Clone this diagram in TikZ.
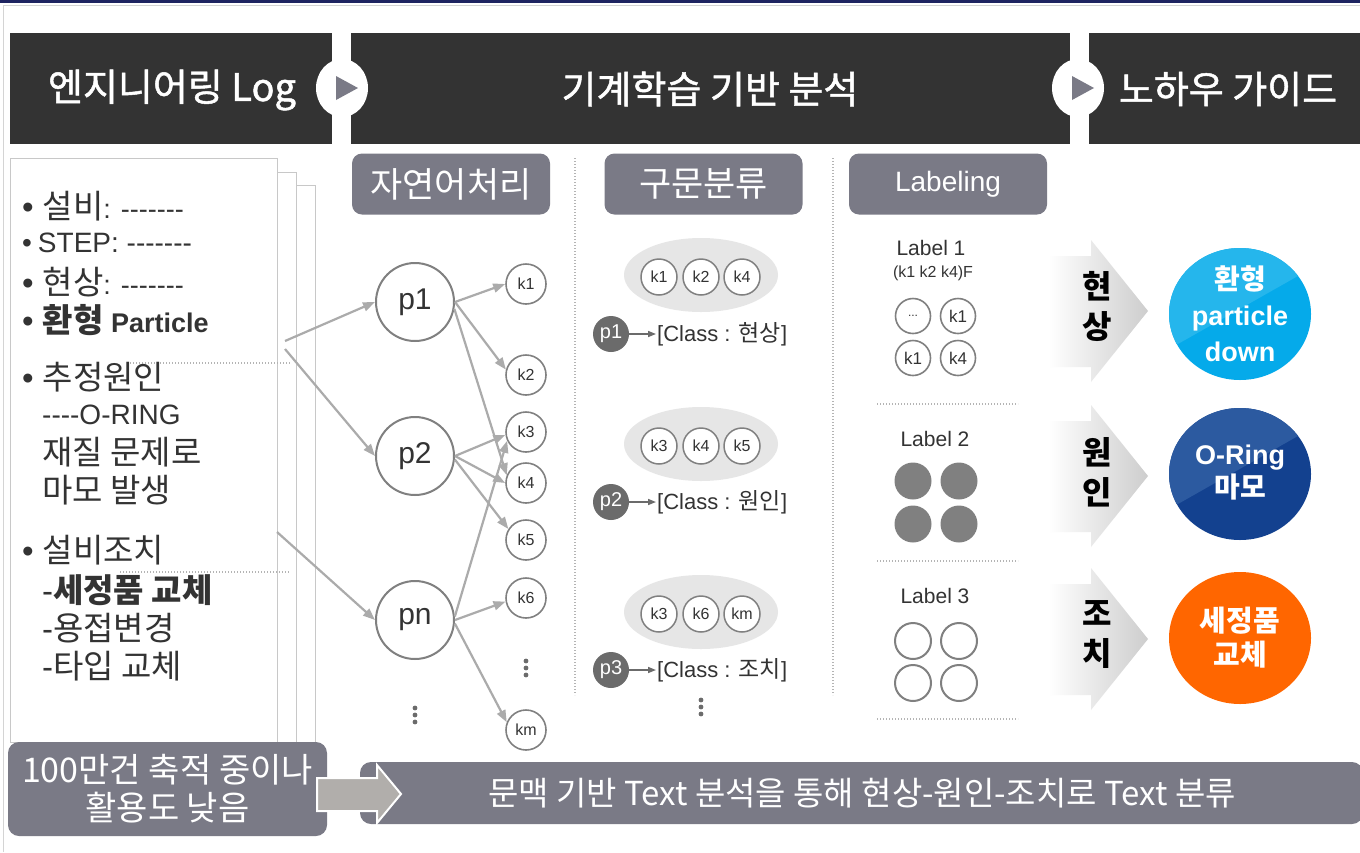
\documentclass[tikz,border=0pt]{standalone}
\usepackage{fontspec}
\setmainfont{Noto Sans CJK KR}
\newfontfamily\lat{Liberation Sans}
\newfontfamily\semib[FakeBold=1.3]{Noto Sans CJK KR}
\usetikzlibrary{shapes.geometric,arrows.meta,calc}
\definecolor{hdr}{HTML}{333333}
\definecolor{pill}{HTML}{7A7A86}
\definecolor{navy}{HTML}{1E2461}
\definecolor{framec}{HTML}{D4D4D4}
\definecolor{pagec}{HTML}{C8C8C8}
\definecolor{txt}{HTML}{333333}
\definecolor{arrc}{HTML}{ABABAB}
\definecolor{cb}{HTML}{808080}
\definecolor{ellc}{HTML}{E6E6E6}
\definecolor{dk}{HTML}{6B6B6B}
\definecolor{fillc}{HTML}{808080}
\definecolor{blueA}{HTML}{25B6EC}
\definecolor{blueB}{HTML}{05AAEA}
\definecolor{navA}{HTML}{2C5AA0}
\definecolor{navB}{HTML}{13418F}
\definecolor{orng}{HTML}{FF6600}
\definecolor{barr}{HTML}{B1AEAB}
\definecolor{agray}{HTML}{CDCDCD}
\definecolor{dotc}{HTML}{B4B4B4}
\newcommand{\bul}{{\lat •}\hspace{9pt}}
\tikzset{
 hdrbar/.style={fill=hdr, inner sep=0},
 hdrtxt/.style={text=white, font=\semib\fontsize{38}{38}\selectfont, inner sep=0},
 pillbox/.style={fill=pill, rounded corners=10pt, minimum width=198pt, minimum height=61pt, text=white, inner sep=0},
 lt/.style={anchor=west, inner sep=0, text=txt, font=\fontsize{33}{33}\selectfont},
 pnode/.style={circle, draw=cb, line width=2pt, fill=white, minimum size=78pt, inner sep=0, text=txt, font=\lat\fontsize{30}{30}\selectfont},
 knode/.style={circle, draw=cb, line width=1.6pt, fill=white, minimum size=40pt, inner sep=0, text=txt, font=\lat\fontsize{16}{16}\selectfont},
 conn/.style={draw=arrc, line width=2.2pt, -{Triangle[length=12pt,width=9pt]}},
 ellbox/.style={ellipse, fill=ellc, minimum width=154pt, minimum height=74pt, inner sep=0},
 sknode/.style={circle, draw=cb, line width=1.5pt, fill=white, minimum size=36pt, inner sep=0, text=txt, font=\lat\fontsize{16}{16}\selectfont},
 pdark/.style={circle, fill=dk, minimum size=36pt, inner sep=0, text=white, font=\lat\fontsize{20}{20}\selectfont},
 clsnode/.style={anchor=west, inner sep=1pt, text=txt, font=\fontsize{23}{23}\selectfont},
 sarr/.style={draw=dk, line width=1.5pt, -{Triangle[length=8pt,width=6pt]}},
 labtxt/.style={inner sep=0, text=txt, font=\lat\fontsize{21}{21}\selectfont},
 lcirc/.style={circle, draw=cb, line width=1.6pt, fill=white, minimum size=35pt, inner sep=0, text=txt, font=\lat\fontsize{17}{17}\selectfont},
 lfill/.style={circle, fill=fillc, minimum size=37pt, inner sep=0},
 lempty/.style={circle, draw=cb, line width=2pt, fill=white, minimum size=36pt, inner sep=0},
 dotline/.style={draw=dotc, line width=1.2pt, dash pattern=on 1.2pt off 1.8pt},
 vtxt/.style={inner sep=0, align=center, text=black, font=\bfseries\fontsize{32}{40}\selectfont},
 ctxt/.style={inner sep=0, align=center, text=white, font=\bfseries\fontsize{28}{36}\selectfont},
 gbox/.style={fill=pill, rounded corners=11pt, inner sep=0, text=white},
}
\begin{document}
\begin{tikzpicture}[x=1pt,y=-1pt]
\useasboundingbox (0,0) rectangle (1360,852);
\fill[white] (0,0) rectangle (1360,852);
\draw[framec, line width=1pt] (3.5,852) -- (3.5,5) -- (1360,5);
\fill[navy] (0,0) rectangle (1360,3);

% header bars
\node[hdrbar, minimum width=322pt, minimum height=111pt] (h1) at (171,88.5) {};
\node[hdrbar, minimum width=719pt, minimum height=111pt] (h2) at (710.5,88.5) {};
\node[hdrbar, minimum width=271pt, minimum height=111pt] (h3) at (1224.5,88.5) {};
\node[hdrtxt] (ht1) at (172,90) {엔지니어링 Log};
\node[hdrtxt] (ht2) at (710,89) {기계학습 기반 분석};
\node[hdrtxt] (ht3) at (1228,89) {노하우 가이드};
\node[ellipse, fill=white, minimum width=52pt, minimum height=58pt, inner sep=0] (b1) at (342,88) {};
\fill[pill] ($(b1)+(-6,-12)$) -- ++(22,12) -- ++(-22,12) -- cycle;
\node[ellipse, fill=white, minimum width=52pt, minimum height=58pt, inner sep=0] (b2) at (1078,88) {};
\fill[pill] ($(b2)+(-6,-12)$) -- ++(22,12) -- ++(-22,12) -- cycle;

% left pages
\draw[pagec, line width=1pt, fill=white] (29,185) rectangle (315,742);
\draw[pagec, line width=1pt, fill=white] (20,172) rectangle (296,742);
\draw[pagec, line width=1pt, fill=white] (10,158) rectangle (277,742);
\draw[dotline] (130,363) -- (290,363);
\draw[dotline] (120,572) -- (290,572);

\node[lt] (l1) at (22,206) {\bul 설비{\lat\fontsize{27}{27}\selectfont : -------}};
\node[lt, font=\lat\fontsize{28}{28}\selectfont] (l2) at (22,243) {•\hspace{6pt}STEP: -------};
\node[lt] (l3) at (22,282) {\bul 현상{\lat\fontsize{27}{27}\selectfont : -------}};
\node[lt] (l4) at (22,320) {\bul{\bfseries 환형 {\lat\fontsize{27}{27}\selectfont Particle}}};
\node[lt] (l5) at (22,377) {\bul 추정원인};
\node[lt, font=\lat\fontsize{28}{28}\selectfont] (l6) at (42,415) {----O-RING};
\node[lt] (l7) at (42,452) {재질 문제로};
\node[lt] (l8) at (42,490) {마모 발생};
\node[lt] (l9) at (22,550) {\bul 설비조치};
\node[lt] (l10) at (42,590) {{\lat -}{\bfseries 세정품 교체}};
\node[lt] (l11) at (42,628) {{\lat -}용접변경};
\node[lt] (l12) at (42,666) {{\lat -}타입 교체};

% pill headers
\node[pillbox, font=\fontsize{35}{35}\selectfont] (s1) at (451,184) {자연어처리};
\node[pillbox, font=\fontsize{35}{35}\selectfont] (s2) at (703.5,184) {구문분류};
\node[pillbox, font=\lat\fontsize{28}{28}\selectfont] (s3) at (948,184) {Labeling};
\draw[dotline] (575,158) -- (575,695);
\draw[dotline] (833,158) -- (833,695);

% column 1 graph
\node[pnode] (p1) at (415,302) {p1};
\node[pnode] (p2) at (415,456) {p2};
\node[pnode] (pn) at (415,620) {pn};
\node[knode] (k1) at (526,284) {k1};
\node[knode] (k2) at (526,375) {k2};
\node[knode] (k3) at (526,432) {k3};
\node[knode] (k4) at (526,483) {k4};
\node[knode] (k5) at (526,540) {k5};
\node[knode] (k6) at (526,598) {k6};
\node[knode] (km) at (526,730) {km};
\coordinate (a1) at (285,341);
\coordinate (a2) at (285,349);
\coordinate (a3) at (277,532);
\draw[conn] (a1) -- (p1.west);
\draw[conn] (a2) -- (p2.west);
\draw[conn] (a3) -- (pn.west);
\draw[conn] (p1.east) -- (k1.west);
\draw[conn] (p1.east) -- (k2.165);
\draw[conn] (p1.-10) -- (k4.158);
\draw[conn] (p2.east) -- (k3.188);
\draw[conn] (p2.east) -- (k4.west);
\draw[conn] (p2.-5) -- (k5.148);
\draw[conn] (pn.5) -- (k3.205);
\draw[conn] (pn.east) -- (k6.190);
\draw[conn] (pn.-5) -- (km.158);
\foreach \yy in {661,668,675} \fill[dk] (526,\yy) circle (2.4);
\foreach \yy in {708,715,722} \fill[dk] (415,\yy) circle (2.4);

% column 2
\node[ellbox] (e1) at (701,275) {};
\node[sknode] (e1a) at (659,277) {k1};
\node[sknode] (e1b) at (701,277) {k2};
\node[sknode] (e1c) at (742,277) {k4};
\node[pdark] (q1) at (611,334) {p1};
\node[clsnode] (c1) at (656,334) {{\lat\fontsize{22}{22}\selectfont [Class : }현상{\lat\fontsize{22}{22}\selectfont ]}};
\draw[sarr] (q1) -- (c1);

\node[ellbox] (e2) at (701,444) {};
\node[sknode] (e2a) at (659,446) {k3};
\node[sknode] (e2b) at (701,446) {k4};
\node[sknode] (e2c) at (742,446) {k5};
\node[pdark] (q2) at (611,502) {p2};
\node[clsnode] (c2) at (656,502) {{\lat\fontsize{22}{22}\selectfont [Class : }원인{\lat\fontsize{22}{22}\selectfont ]}};
\draw[sarr] (q2) -- (c2);

\node[ellbox] (e3) at (701,612) {};
\node[sknode] (e3a) at (659,614) {k3};
\node[sknode] (e3b) at (701,614) {k6};
\node[sknode] (e3c) at (742,614) {km};
\node[pdark] (q3) at (611,670) {p3};
\node[clsnode] (c3) at (656,670) {{\lat\fontsize{22}{22}\selectfont [Class : }조치{\lat\fontsize{22}{22}\selectfont ]}};
\draw[sarr] (q3) -- (c3);
\foreach \yy in {700,707,714} \fill[dk] (701,\yy) circle (2.4);

% column 3
\node[labtxt] (lb1) at (931,248) {Label 1};
\node[labtxt, font=\lat\fontsize{16}{16}\selectfont] (lb1s) at (933,273) {(k1 k2 k4)F};
\node[lcirc, font=\lat\fontsize{12}{12}\selectfont] (m1) at (913,316) {...};
\node[lcirc] (m2) at (958,316) {k1};
\node[lcirc] (m3) at (913,358) {k1};
\node[lcirc] (m4) at (958,358) {k4};
\draw[dotline] (877,404) -- (1018,404);
\node[labtxt] (lb2) at (935,439) {Label 2};
\node[lfill] (f1) at (913,481) {};
\node[lfill] (f2) at (959,481) {};
\node[lfill] (f3) at (913,524) {};
\node[lfill] (f4) at (959,524) {};
\draw[dotline] (877,561) -- (1018,561);
\node[labtxt] (lb3) at (935,596) {Label 3};
\node[lempty] (o1) at (913,641) {};
\node[lempty] (o2) at (959,641) {};
\node[lempty] (o3) at (913,683) {};
\node[lempty] (o4) at (959,683) {};
\draw[dotline] (877,719) -- (1018,719);

% big arrows
\shade[left color=white, right color=agray] (1048,256) -- (1091,256) -- (1091,240) -- (1148,311) -- (1091,382) -- (1091,367) -- (1048,367) -- cycle;
\shade[left color=white, right color=agray] (1048,421) -- (1091,421) -- (1091,405) -- (1148,476) -- (1091,547) -- (1091,532) -- (1048,532) -- cycle;
\shade[left color=white, right color=agray] (1048,584) -- (1091,584) -- (1091,568) -- (1148,639) -- (1091,710) -- (1091,695) -- (1048,695) -- cycle;
\node[vtxt] (v1) at (1097,306) {현\\상};
\node[vtxt] (v2) at (1097,472) {원\\인};
\node[vtxt] (v3) at (1097,635) {조\\치};

% result circles
\node[ellipse, fill=blueB, minimum width=142pt, minimum height=132pt, inner sep=0] (cc1) at (1240,314) {};
\begin{scope}
\clip (1240,314) ellipse [x radius=71, y radius=66];
\fill[blueA] ($(cc1)+(-122,64)$) -- ($(cc1)+(125,-76)$) -- ($(cc1)+(125,-150)$) -- ($(cc1)+(-150,-150)$) -- ($(cc1)+(-150,64)$) -- cycle;
\end{scope}
\node[ctxt] (t1) at (cc1) {환형\\{\lat\fontsize{27}{27}\selectfont particle}\\{\lat\fontsize{27}{27}\selectfont down}};

\node[ellipse, fill=navB, minimum width=142pt, minimum height=132pt, inner sep=0] (cc2) at (1240,474) {};
\begin{scope}
\clip (1240,474) ellipse [x radius=71, y radius=66];
\fill[navA] ($(cc2)+(-122,64)$) -- ($(cc2)+(125,-76)$) -- ($(cc2)+(125,-150)$) -- ($(cc2)+(-150,-150)$) -- ($(cc2)+(-150,64)$) -- cycle;
\end{scope}
\node[ctxt, font=\bfseries\fontsize{28}{33}\selectfont] (t2) at ($(cc2)+(0,-1)$) {{\lat\fontsize{27}{27}\selectfont O-Ring}\\마모};

\node[ellipse, fill=orng, minimum width=142pt, minimum height=132pt, inner sep=0] (cc3) at (1240,638) {};
\node[ctxt, font=\bfseries\fontsize{29}{34}\selectfont] (t3) at (cc3) {세정품\\교체};

% bottom
\node[gbox, minimum width=319pt, minimum height=94pt, align=center, font=\fontsize{34}{38}\selectfont] (bl) at (167.5,789) {100만건 축적 중이나\\활용도 낮음};
\node[gbox, minimum width=1003pt, minimum height=62pt] (br) at (861.5,793) {};
\node[inner sep=0, text=white, font=\fontsize{33}{33}\selectfont] (brt) at (862,793) {문맥 기반 Text 분석을 통해 현상-원인-조치로 Text 분류};
\draw[white, line width=2pt, fill=barr] (317,778) -- (377,778) -- (377,765) -- (401,794) -- (377,823) -- (377,811) -- (317,811) -- cycle;
\end{tikzpicture}
\end{document}
